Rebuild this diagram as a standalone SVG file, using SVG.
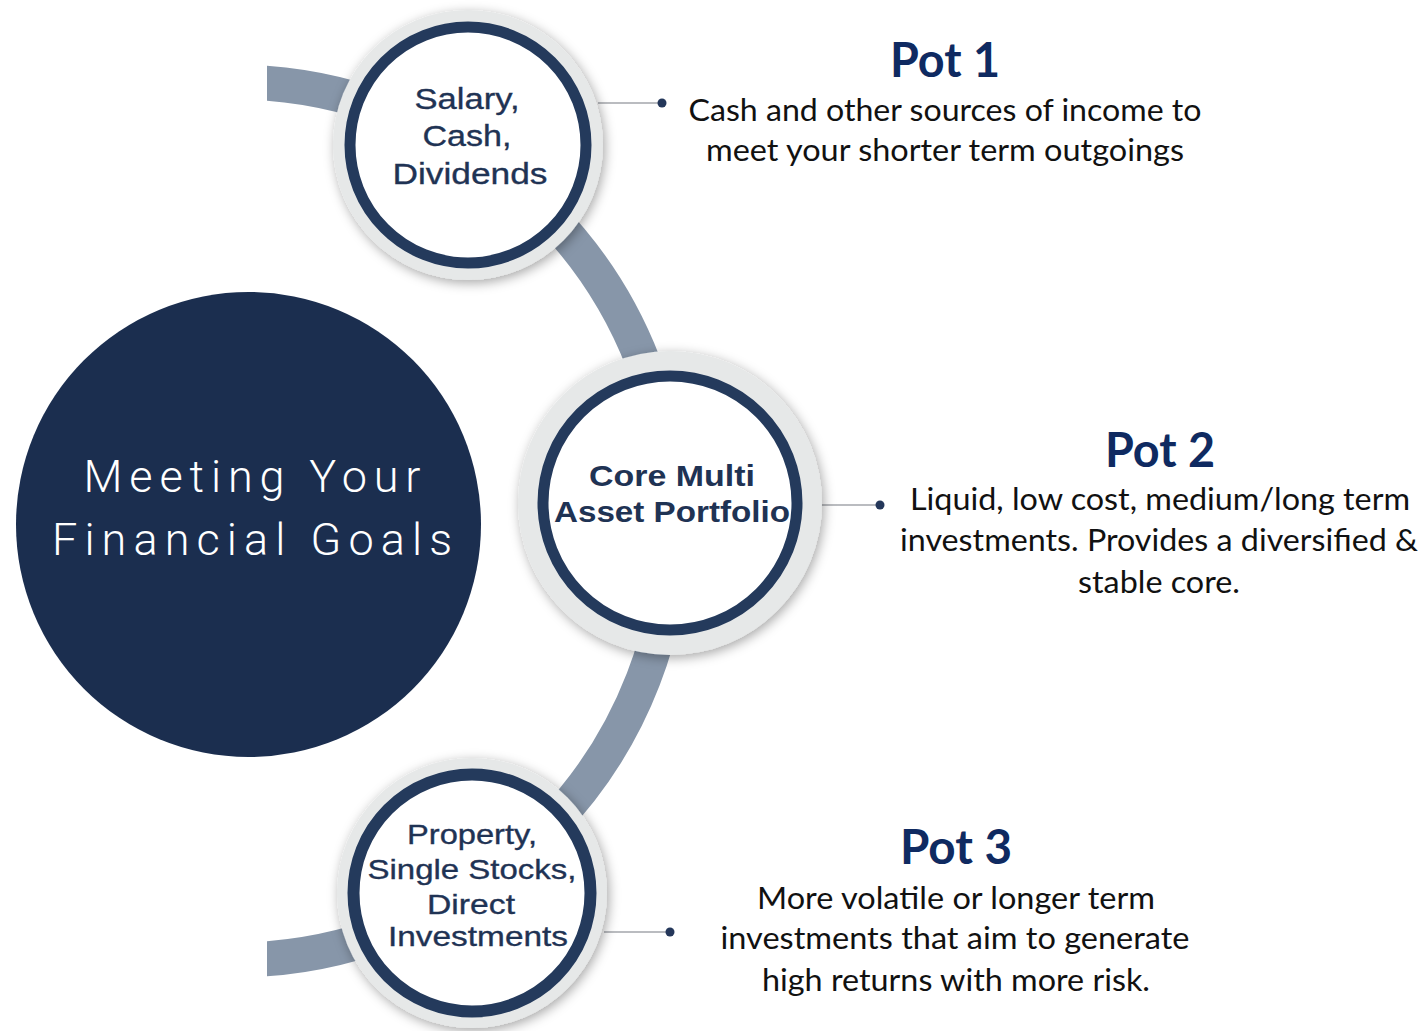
<svg xmlns="http://www.w3.org/2000/svg" width="1427" height="1031" viewBox="0 0 1427 1031">
<defs>
<filter id="shadow" x="-20%" y="-20%" width="140%" height="140%">
<feDropShadow dx="2" dy="3" stdDeviation="6" flood-color="#000" flood-opacity="0.35"/>
</filter>
<marker id="dot" markerUnits="userSpaceOnUse" markerWidth="12" markerHeight="12" refX="6" refY="6" viewBox="0 0 12 12">
<circle cx="6" cy="6" r="4.5" fill="#24375a"/>
</marker>
<clipPath id="bandclip"><rect x="267" y="0" width="1160" height="1031"/></clipPath>
</defs>
<style>
.band{fill:none;stroke:#8796a9;stroke-width:35}
.lead{fill:none;stroke:#a3a6ab;stroke-width:1.5;marker-end:url(#dot)}
.halo{fill:#e6e8e8;filter:url(#shadow)}
.ring{fill:#fff;stroke:#243a5c}
.ntext{font-family:'Liberation Sans',Arial,Helvetica,sans-serif;fill:#1f3354;text-anchor:middle}
.med{stroke:#1f3354;stroke-width:0.35}
.bold{font-weight:bold}
.title{font-family:Lato,'Open Sans',sans-serif;font-weight:bold;font-size:48px;fill:#0f2a61;text-anchor:middle}
.body{font-family:Lato,'Open Sans',sans-serif;font-size:31px;fill:#111;text-anchor:middle}
.goal{font-family:Roboto,'Liberation Sans',sans-serif;font-weight:300;font-size:45px;fill:#fff;text-anchor:middle}
</style>
<rect width="1427" height="1031" fill="#fff"/>

<g id="connectors">
<path class="band" clip-path="url(#bandclip)" d="M 250 82.3 A 439 439 0 0 1 250 959.7"/>
<path class="lead" d="M 598 103 L 662 103"/>
<path class="lead" d="M 820 505 L 880 505"/>
<path class="lead" d="M 604 932 L 670 932"/>
</g>

<g id="node-goals">
<circle cx="248.5" cy="524.5" r="232.5" fill="#1b2e4f"/>
<text class="goal" x="252" y="492" textLength="337" lengthAdjust="spacing">Meeting Your</text>
<text class="goal" x="252" y="555" textLength="400" lengthAdjust="spacing">Financial Goals</text>
</g>

<g id="node-salary">
<circle class="halo" cx="468" cy="145" r="135"/>
<circle class="ring" cx="468" cy="145" r="118" stroke-width="11"/>
<text class="ntext med" font-size="30" x="467" y="109" textLength="105" lengthAdjust="spacingAndGlyphs">Salary,</text>
<text class="ntext med" font-size="30" x="467" y="146" textLength="89" lengthAdjust="spacingAndGlyphs">Cash,</text>
<text class="ntext med" font-size="30" x="470" y="184" textLength="155" lengthAdjust="spacingAndGlyphs">Dividends</text>
</g>

<g id="node-core">
<circle class="halo" cx="670" cy="503" r="152"/>
<circle class="ring" cx="670" cy="503" r="127" stroke-width="11"/>
<text class="ntext bold" font-size="30" x="672" y="486" textLength="166" lengthAdjust="spacingAndGlyphs">Core Multi</text>
<text class="ntext bold" font-size="30" x="672" y="522" textLength="236" lengthAdjust="spacingAndGlyphs">Asset Portfolio</text>
</g>

<g id="node-property">
<circle class="halo" cx="472" cy="893" r="135"/>
<circle class="ring" cx="472" cy="893" r="118.5" stroke-width="12"/>
<text class="ntext med" font-size="28" x="472" y="844" textLength="130" lengthAdjust="spacingAndGlyphs">Property,</text>
<text class="ntext med" font-size="28" x="472" y="879" textLength="209" lengthAdjust="spacingAndGlyphs">Single Stocks,</text>
<text class="ntext med" font-size="28" x="471" y="914" textLength="88" lengthAdjust="spacingAndGlyphs">Direct</text>
<text class="ntext med" font-size="28" x="478" y="946" textLength="180" lengthAdjust="spacingAndGlyphs">Investments</text>
</g>

<g id="node-pot1">
<text class="title" x="945" y="77" textLength="110" lengthAdjust="spacingAndGlyphs">Pot 1</text>
<text class="body" x="945" y="121" textLength="513" lengthAdjust="spacingAndGlyphs">Cash and other sources of income to</text>
<text class="body" x="945" y="161" textLength="478" lengthAdjust="spacingAndGlyphs">meet your shorter term outgoings</text>
</g>

<g id="node-pot2">
<text class="title" x="1160" y="467" textLength="110" lengthAdjust="spacingAndGlyphs">Pot 2</text>
<text class="body" x="1160" y="510" textLength="500" lengthAdjust="spacingAndGlyphs">Liquid, low cost, medium/long term</text>
<text class="body" x="1159" y="551" textLength="518" lengthAdjust="spacingAndGlyphs">investments. Provides a diversified &amp;</text>
<text class="body" x="1159" y="593" textLength="162" lengthAdjust="spacingAndGlyphs">stable core.</text>
</g>

<g id="node-pot3">
<text class="title" x="956" y="864" textLength="112" lengthAdjust="spacingAndGlyphs">Pot 3</text>
<text class="body" x="956" y="909" textLength="398" lengthAdjust="spacingAndGlyphs">More volatile or longer term</text>
<text class="body" x="955" y="949" textLength="469" lengthAdjust="spacingAndGlyphs">investments that aim to generate</text>
<text class="body" x="956" y="991" textLength="388" lengthAdjust="spacingAndGlyphs">high returns with more risk.</text>
</g>
</svg>
